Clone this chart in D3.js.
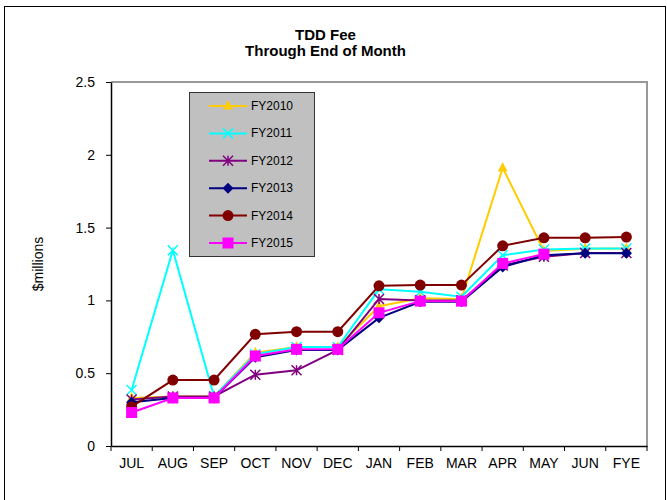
<!DOCTYPE html>
<html><head><meta charset="utf-8">
<script src="https://cdn.jsdelivr.net/npm/d3@7"></script>
<style>body{margin:0;background:#fff;}svg{display:block;font-family:"Liberation Sans",Arial,sans-serif;}</style>
</head><body>
<svg id="c" width="667" height="500"></svg>
<script>
const months = ["JUL","AUG","SEP","OCT","NOV","DEC","JAN","FEB","MAR","APR","MAY","JUN","FYE"];
const yTicks = [0,0.5,1,1.5,2,2.5];
const fy2010 = [0.33,0.34,0.34,0.64,0.68,0.68,0.96,1.015,1.01,1.91,1.34,1.355,1.357];
const fy2011 = [0.385,1.345,0.34,0.63,0.68,0.68,1.076,1.06,1.025,1.31,1.35,1.357,1.357];
const fy2012 = [0.32,0.34,0.34,0.49,0.52,0.66,1.01,1.0,1.0,1.24,1.30,1.325,1.325];
const fy2013 = [0.30,0.33,0.33,0.61,0.66,0.66,0.88,0.99,0.99,1.23,1.31,1.323,1.323];
const fy2014 = [0.27,0.453,0.453,0.767,0.785,0.785,1.10,1.105,1.105,1.375,1.43,1.43,1.435];
const fy2015 = [0.23,0.33,0.33,0.618,0.664,0.664,0.915,0.995,0.995,1.254,1.318];
const seriesNames = ["FY2010","FY2011","FY2012","FY2013","FY2014","FY2015"];

const series = [
  {name:seriesNames[0], values:fy2010, color:"#FFCC00", marker:"triangle"},
  {name:seriesNames[1], values:fy2011, color:"#00FFFF", marker:"x"},
  {name:seriesNames[2], values:fy2012, color:"#800080", marker:"star"},
  {name:seriesNames[3], values:fy2013, color:"#000080", marker:"diamond"},
  {name:seriesNames[4], values:fy2014, color:"#800000", marker:"circle"},
  {name:seriesNames[5], values:fy2015, color:"#FF00FF", marker:"square"}
];

const svg = d3.select("#c");
const L=111, R=647, T=82, B=446;

// outer frame
svg.append("rect").attr("x",4.5).attr("y",6.5).attr("width",661).attr("height",500).attr("fill","none").attr("stroke","#000").attr("stroke-width",1);

const x = d3.scaleBand().domain(months).range([L,R]).paddingInner(0).paddingOuter(0);
const y = d3.scaleLinear().domain([0,2.5]).range([B,T]);

// plot border (top/right gray)
svg.append("path").attr("d",`M${L},${T}H${R}V${B}`).attr("fill","none").attr("stroke","#999").attr("stroke-width",2);

// y axis
const ya = svg.append("g").attr("transform",`translate(${L},0)`)
  .call(d3.axisLeft(y).tickValues(yTicks).tickFormat(d=>d).tickSize(5).tickSizeOuter(0));
ya.select(".domain").attr("stroke","#000").attr("stroke-width",1.5);
ya.selectAll("text").attr("font-size",14).attr("font-family","Liberation Sans, Arial").attr("dx",-8);

// x axis with ticks at boundaries
const xa = svg.append("g").attr("transform",`translate(0,${B})`)
  .call(d3.axisBottom(x).tickSize(0).tickSizeOuter(0));
xa.select(".domain").attr("stroke","#000").attr("stroke-width",1.5);
xa.selectAll("text").attr("font-size",14).attr("font-family","Liberation Sans, Arial").attr("y",0).attr("dy",22);
const bounds = months.map(m=>x(m)).concat([x(months[months.length-1])+x.bandwidth()]);
svg.append("g").selectAll("line").data(bounds).join("line")
  .attr("x1",d=>d).attr("x2",d=>d).attr("y1",B).attr("y2",B+5).attr("stroke","#000").attr("stroke-width",1);

// axis title
svg.append("text").attr("transform",`translate(43,${(T+B)/2}) rotate(-90)`).attr("text-anchor","middle")
  .attr("font-size",14).text("$millions");

// title
svg.append("text").attr("x",325.5).attr("y",40).attr("text-anchor","middle").attr("font-size",15).attr("font-weight","bold").text("TDD Fee");
svg.append("text").attr("x",325.5).attr("y",56).attr("text-anchor","middle").attr("font-size",15).attr("font-weight","bold").text("Through End of Month");

const cx = i => x(months[i]) + x.bandwidth()/2;

function drawMarker(g, type, color, px, py){
  if(type==="triangle"){
    const s=8;
    g.append("path").attr("d",`M${px},${py-s*0.75}L${px+s*0.6},${py+s*0.45}L${px-s*0.6},${py+s*0.45}Z`).attr("fill",color);
  } else if(type==="x"){
    const s=5;
    g.append("path").attr("d",`M${px-s},${py-s}L${px+s},${py+s}M${px-s},${py+s}L${px+s},${py-s}`).attr("stroke",color).attr("stroke-width",1.5);
  } else if(type==="star"){
    const s=5;
    g.append("path").attr("d",`M${px-s},${py-s}L${px+s},${py+s}M${px-s},${py+s}L${px+s},${py-s}M${px},${py-s}L${px},${py+s}`).attr("stroke",color).attr("stroke-width",1.5);
  } else if(type==="diamond"){
    const s=5.5;
    g.append("path").attr("d",`M${px},${py-s}L${px+s},${py}L${px},${py+s}L${px-s},${py}Z`).attr("fill",color);
  } else if(type==="circle"){
    g.append("circle").attr("cx",px).attr("cy",py).attr("r",5.5).attr("fill",color);
  } else if(type==="square"){
    const s=5.5;
    g.append("rect").attr("x",px-s).attr("y",py-s).attr("width",2*s).attr("height",2*s).attr("fill",color);
  }
}

const line = d3.line().x((d,i)=>cx(i)).y(d=>y(d));
series.forEach(s=>{
  const g = svg.append("g");
  g.append("path").attr("d",line(s.values)).attr("fill","none").attr("stroke",s.color).attr("stroke-width",2);
  s.values.forEach((v,i)=>drawMarker(g,s.marker,s.color,cx(i),y(v)));
});

// legend
const lg = svg.append("g");
lg.append("rect").attr("x",189.5).attr("y",92.5).attr("width",125).attr("height",164).attr("fill","#C0C0C0").attr("stroke","#333").attr("stroke-width",1);
series.forEach((s,i)=>{
  const ly = 106 + i*27.4;
  lg.append("line").attr("x1",209).attr("x2",247).attr("y1",ly).attr("y2",ly).attr("stroke",s.color).attr("stroke-width",2);
  drawMarker(lg,s.marker,s.color,228,ly);
  lg.append("text").attr("x",251).attr("y",ly+4).attr("font-size",12).text(s.name);
});
</script>
</body></html>
